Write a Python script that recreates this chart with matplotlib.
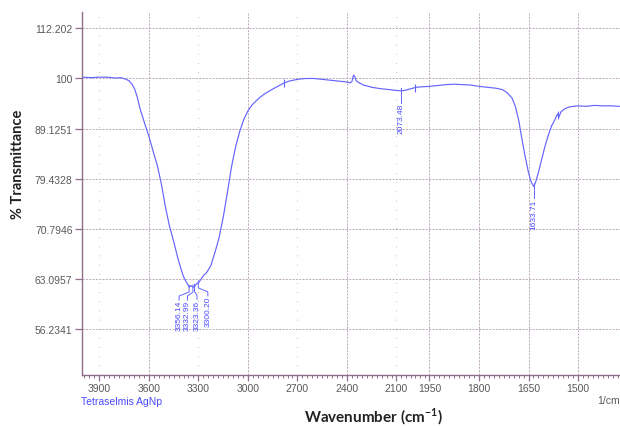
import numpy as np
import matplotlib
matplotlib.use('Agg')
import matplotlib.pyplot as plt

# FTIR spectrum (wavenumber cm-1, % transmittance)
wavenumber = [4000, 3950, 3900, 3850, 3800, 3770, 3745, 3720, 3700, 3685, 3670,
              3655, 3640, 3620, 3600, 3575, 3550, 3525, 3500, 3475, 3450, 3425,
              3405, 3390, 3375, 3365, 3356, 3345, 3333, 3323, 3310, 3300, 3285, 3267,
              3250, 3225, 3200, 3175, 3150, 3125, 3100, 3075, 3050, 3025, 3000,
              2975, 2950, 2925, 2900, 2850, 2800, 2780, 2750, 2700, 2650, 2600,
              2550, 2500, 2450, 2400, 2380, 2370, 2360, 2352, 2345, 2330, 2300,
              2250, 2200, 2150, 2100, 2073, 2050, 2020, 2000, 1990, 1975, 1950,
              1925, 1900, 1875, 1850, 1825, 1800, 1775, 1750, 1730, 1715, 1700,
              1690, 1680, 1670, 1660, 1650, 1642, 1634, 1628, 1620, 1610, 1600,
              1590, 1580, 1570, 1562, 1558, 1552, 1540, 1525, 1500, 1475, 1450,
              1425, 1400, 1375]
transmittance = [100.3, 100.2, 100.3, 100.3, 100.1, 100.2, 99.9, 99.5, 98.6, 97.5, 95.8,
                 93.5, 91.8, 89.6, 87.6, 84.7, 82.0, 78.6, 74.5, 71.2, 68.8, 66.2,
                 64.5, 63.4, 62.7, 62.3, 61.9, 62.1, 61.9, 62.0, 62.4, 62.5, 63.0, 63.6,
                 64.0, 65.0, 67.0, 69.3, 72.6, 76.8, 81.5, 85.4, 88.5, 91.0, 92.8,
                 94.1, 95.0, 95.8, 96.5, 97.6, 98.6, 99.0, 99.4, 99.8, 100.0, 100.0,
                 99.8, 99.6, 99.4, 99.2, 99.0, 99.3, 100.8, 100.4, 99.5, 99.1, 98.5,
                 98.0, 97.7, 97.5, 97.3, 97.2, 97.3, 97.6, 97.8, 98.0, 98.1, 98.2,
                 98.4, 98.6, 98.7, 98.6, 98.5, 98.2, 98.0, 97.8, 97.5, 96.8, 95.6,
                 93.8, 90.9, 87.0, 83.5, 80.5, 78.8, 78.0, 78.9, 80.6, 83.1, 85.6,
                 87.8, 89.7, 91.0, 92.2, 91.5, 92.6, 93.3, 93.7, 93.9, 93.8, 94.0,
                 93.9, 93.9, 93.8]

peak_wn = [3356.14, 3332.99, 3323.36, 3300.20, 2073.48, 1633.71]
peak_labels = ['3356.14', '3332.99', '3323.36', '3300.20', '2073.48', '1633.71']
peak_text_dx = [-10, -5.5, 2.5, 9.5, 0, 0]   # px offset of label from peak
marker_wn = [2780, 1993, 1561]

ytick_vals = [56.2341, 63.0957, 70.7946, 79.4328, 89.1251, 100, 112.202]
ytick_labels = ['56.2341', '63.0957', '70.7946', '79.4328', '89.1251', '100', '112.202']
xtick_vals = [3900, 3600, 3300, 3000, 2700, 2400, 2100, 1950, 1800, 1650, 1500]
xgrid_main = [3600, 3000, 2400, 1950, 1800, 1650, 1500]
xgrid_dots = [3900, 3300, 2700, 2100]

line_col = '#6464ff'
text_blue = '#4a4aff'
axis_col = '#8e6f8e'
grid_col = '#b29db2'
label_gray = '#595959'


# below 2000 cm-1 the axis is stretched twice as much
def fwd(x):
    x = np.asarray(x, dtype=float)
    return np.where(x >= 2000, x, 2000 - 2 * (2000 - x))


def inv(y):
    y = np.asarray(y, dtype=float)
    return np.where(y >= 2000, y, 2000 - (2000 - y) / 2)


fig = plt.figure(figsize=(6.2, 4.27), dpi=100)
ax = fig.add_axes([81.5 / 620, 51 / 427, 538.5 / 620, 363.3 / 427])

ax.set_xscale('function', functions=(fwd, inv))
ax.set_yscale('log')
ax.set_xlim(4008, 1373)
ax.set_ylim(50.57, 116.6)

for v in ytick_vals:
    ax.axhline(v, color=grid_col, lw=0.6, ls=(0, (2.5, 1.5)), zorder=1)
for v in xgrid_main:
    ax.axvline(v, color=grid_col, lw=0.6, ls=(0, (2.5, 1.5)), zorder=1)
for v in xgrid_dots:
    ax.axvline(v, color=grid_col, lw=0.6, ls=(0, (1, 10)), zorder=1)

ax.plot(wavenumber, transmittance, color=line_col, lw=0.85, zorder=3)

# small peak markers on the curve
for w in marker_wn:
    t = np.interp(w, wavenumber[::-1], transmittance[::-1])
    ax.plot([w], [t], marker='|', ms=6, mew=0.8, color=line_col, zorder=4)

# peak labels with leader lines, laid out in pixel space
fig.canvas.draw()
to_pix = ax.transData.transform
to_dat = ax.transData.inverted().transform
for w, lab, dx in zip(peak_wn, peak_labels, peak_text_dx):
    t = np.interp(w, wavenumber[::-1], transmittance[::-1])
    px, py = to_pix((w, t))
    if dx == 0:
        pts = [(px, py + 3), (px, py - 12)]
        top = py - 12
        tx = px
    else:
        pts = [(px, py + 2), (px, py - 5), (px + dx, py - 9), (px + dx, py - 13)]
        top = py - 13
        tx = px + dx
    d = to_dat(pts)
    ax.plot(d[:, 0], d[:, 1], color=line_col, lw=0.7, zorder=4)
    tw, tt = to_dat((tx, top))
    ax.text(tw, tt, lab, rotation=90, ha='center', va='top', fontsize=6,
            color=text_blue, family='Liberation Sans', zorder=5)

for s in ['top', 'right']:
    ax.spines[s].set_visible(False)
for s in ['left', 'bottom']:
    ax.spines[s].set_color(axis_col)
    ax.spines[s].set_linewidth(1.0)

ax.set_yticks(ytick_vals)
ax.set_yticklabels(ytick_labels)
ax.yaxis.set_minor_locator(matplotlib.ticker.NullLocator())
ax.tick_params(axis='y', which='major', direction='out', length=5, width=0.9,
               color=axis_col, labelsize=7.5, labelcolor=label_gray, pad=1.5)

ax.set_xticks(xtick_vals)
ax.set_xticklabels([str(v) for v in xtick_vals])
minor_left = list(range(3990, 2000, -30))
minor_right = list(range(1995, 1373, -15))
ax.set_xticks(minor_left + minor_right, minor=True)
ax.tick_params(axis='x', which='major', direction='out', length=4, width=0.9,
               color=axis_col, labelsize=7.5, labelcolor=label_gray, pad=2)
ax.tick_params(axis='x', which='minor', direction='out', length=2.5, width=0.7,
               color=axis_col)
for lbl in ax.get_xticklabels() + ax.get_yticklabels():
    lbl.set_family('Liberation Sans')

ax.set_ylabel('% Transmittance', fontsize=10.5, fontweight='bold', family='Lato',
              color='#222222')
ax.yaxis.set_label_coords(-0.105, 0.582)

fig.text(374 / 620, 1 - 417 / 427, 'Wavenumber (cm$^{\\mathregular{-1}}$)',
         ha='center', va='center', fontsize=11, fontweight='bold', family='Lato',
         color='#222222')
fig.text(81 / 620, 1 - 402 / 427, 'Tetraselmis AgNp', ha='left', va='center',
         fontsize=7.5, color=text_blue, family='Liberation Sans')
fig.text(620 / 620, 1 - 401 / 427, '1/cm', ha='right', va='center',
         fontsize=7.5, color=label_gray, family='Liberation Sans')

fig.savefig('out.png', dpi=100)
